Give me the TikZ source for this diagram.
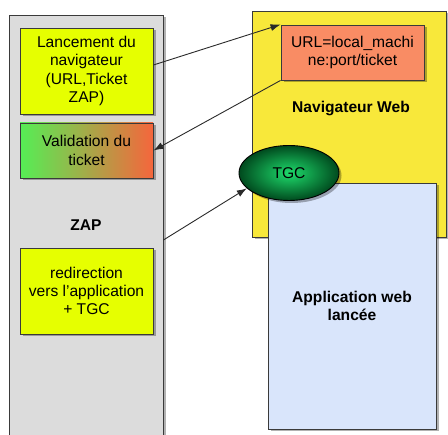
\documentclass[tikz,border=0pt]{standalone}
\usepackage{fontspec}
\setmainfont{Liberation Sans}
\usetikzlibrary{shadows,arrows.meta,shapes.geometric,calc}
\definecolor{zapgray}{HTML}{DCDCDC}
\definecolor{lime}{HTML}{E6FF00}
\definecolor{navyellow}{HTML}{F8E83A}
\definecolor{urlorange}{HTML}{F98C64}
\definecolor{gradgreen}{HTML}{55EE55}
\definecolor{gradorange}{HTML}{F5663C}
\definecolor{appblue}{HTML}{D9E5FB}
\definecolor{tgcin}{HTML}{1EDC6C}
\definecolor{tgcout}{HTML}{004A1E}
\definecolor{boxline}{HTML}{3A3A3A}
\definecolor{arrowgray}{HTML}{2A2A2A}
\begin{document}
\begin{tikzpicture}[x=1pt,y=1pt,
  box/.style={draw=boxline, line width=0.9pt, rectangle, inner sep=2pt, align=center,
    font=\fontsize{15.6}{18.3}\selectfont,
    drop shadow={shadow xshift=2.5pt, shadow yshift=-2.5pt, opacity=0.3, fill=black}},
  lbl/.style={font=\fontsize{15.6}{18.3}\selectfont\bfseries, align=center},
  conn/.style={draw=arrowgray, line width=0.9pt, -{Latex[length=10pt,width=7pt]}}]
\useasboundingbox (0,0) rectangle (448,435);
% ZAP column
\node[box, fill=zapgray, minimum width=154pt, minimum height=440pt] (zap) at (86,200) {};
\node[lbl] (zaplabel) at (86,210) {ZAP};
\node[box, fill=lime, minimum width=133pt, minimum height=86pt] (b1) at (86.5,364) {Lancement du\\navigateur\\(URL,Ticket\\ZAP)};
\node[box, left color=gradgreen, right color=gradorange, minimum width=133pt, minimum height=55pt] (b2) at (86.5,284.5) {Validation du\\ticket};
\node[box, fill=lime, minimum width=133pt, minimum height=86pt] (b3) at (86.5,144) {redirection\\vers l'application\\+ TGC};
% Browser
\node[box, fill=navyellow, minimum width=194pt, minimum height=226pt] (nav) at (349,311) {};
\node[box, fill=urlorange, minimum width=143pt, minimum height=55pt] (url) at (352.5,382.5) {URL=local\_machi\\ne:port/ticket};
\node[lbl] (navlabel) at (351,326) {Navigateur Web};
\node[box, fill=appblue, minimum width=168pt, minimum height=246pt, font=\fontsize{15.6}{18.3}\selectfont\bfseries] (app) at (352,129) {Application web\\lancée};
\node[ellipse, draw=black, line width=0.9pt, inner color=tgcin, outer color=tgcout, minimum width=100pt, minimum height=55pt, font=\fontsize{15.6}{18.3}\selectfont,
  drop shadow={shadow xshift=2.5pt, shadow yshift=-2.5pt, opacity=0.3, fill=black}] (tgc) at (289,262) {TGC};
% connectors
\draw[conn] ($(b1.east)+(0,6)$) -- (url.north west);
\draw[conn] (url.south west) -- (b2.east);
\draw[conn] ($(zap.east)+(0,-5)$) -- (tgc.200);
\end{tikzpicture}
\end{document}
